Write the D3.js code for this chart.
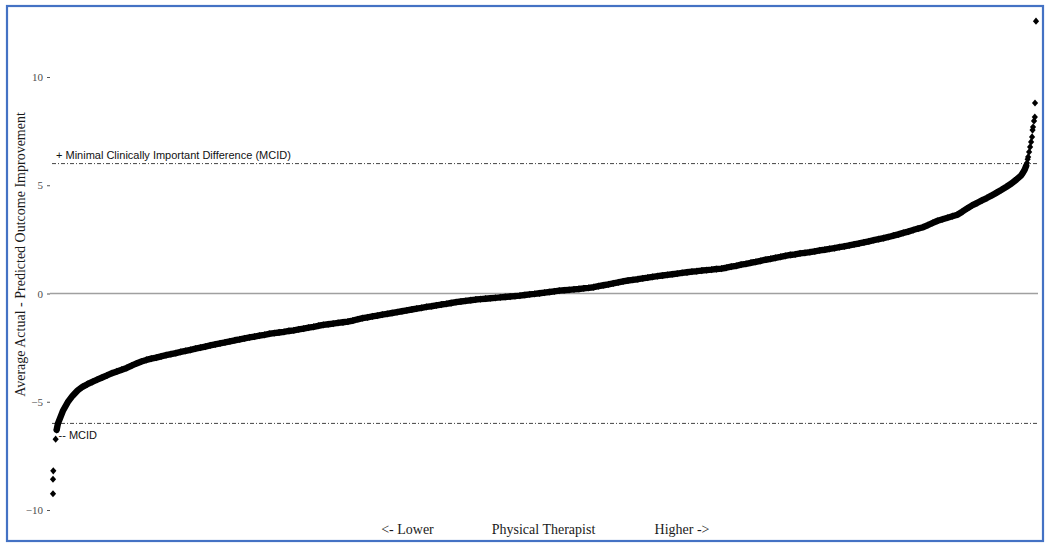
<!DOCTYPE html>
<html>
<head>
<meta charset="utf-8">
<script src="https://cdn.jsdelivr.net/npm/d3@7"></script>
<style>
  html, body { margin: 0; padding: 0; background: #fff; }
  svg { display: block; }
</style>
</head>
<body>
<svg id="chart" width="1046" height="544"></svg>
<script>
// ---- data ----
// y-axis tick values
const yTicks = [-10, -5, 0, 5, 10];
// MCID reference levels
const mcidLevels = [6, -6];
// x-axis texts
const xAxisTexts = ["<- Lower", "Physical Therapist", "Higher ->"];
const yAxisTitle = "Average Actual - Predicted Outcome Improvement";
const mcidUpperText = "+ Minimal Clinically Important Difference (MCID)";
const mcidLowerText = "-- MCID";

// continuous body of the sorted therapist curve: percentile rank and value
const corePct = [0.37,
  0.5, 1, 1.5, 2, 2.5, 3, 3.5, 4, 4.5, 5, 5.5, 6, 6.5, 7, 7.5, 8, 8.5, 9, 9.5, 10,
  10.5, 11, 11.5, 12, 12.5, 13, 13.5, 14, 14.5, 15, 15.5, 16, 16.5, 17, 17.5, 18, 18.5, 19, 19.5, 20,
  20.5, 21, 21.5, 22, 22.5, 23, 23.5, 24, 24.5, 25, 25.5, 26, 26.5, 27, 27.5, 28, 28.5, 29, 29.5, 30,
  30.5, 31, 31.5, 32, 32.5, 33, 33.5, 34, 34.5, 35, 35.5, 36, 36.5, 37, 37.5, 38, 38.5, 39, 39.5, 40,
  40.5, 41, 41.5, 42, 42.5, 43, 43.5, 44, 44.5, 45, 45.5, 46, 46.5, 47, 47.5, 48, 48.5, 49, 49.5, 50,
  50.5, 51, 51.5, 52, 52.5, 53, 53.5, 54, 54.5, 55, 55.5, 56, 56.5, 57, 57.5, 58, 58.5, 59, 59.5, 60,
  60.5, 61, 61.5, 62, 62.5, 63, 63.5, 64, 64.5, 65, 65.5, 66, 66.5, 67, 67.5, 68, 68.5, 69, 69.5, 70,
  70.5, 71, 71.5, 72, 72.5, 73, 73.5, 74, 74.5, 75, 75.5, 76, 76.5, 77, 77.5, 78, 78.5, 79, 79.5, 80,
  80.5, 81, 81.5, 82, 82.5, 83, 83.5, 84, 84.5, 85, 85.5, 86, 86.5, 87, 87.5, 88, 88.5, 89, 89.5, 90,
  90.5, 91, 91.5, 92, 92.5, 93, 93.5, 94, 94.5, 95, 95.5, 96, 96.5, 97, 97.5, 98, 98.5,
  98.7, 98.85, 99.0];
const coreVal = [-6.30,
  -6.01, -5.43, -5.02, -4.72, -4.48, -4.31, -4.19, -4.08, -3.98, -3.88,
  -3.78, -3.68, -3.60, -3.52, -3.44, -3.33, -3.23, -3.14, -3.07, -3.01,
  -2.96, -2.90, -2.85, -2.80, -2.75, -2.70, -2.65, -2.60, -2.55, -2.50,
  -2.45, -2.40, -2.35, -2.30, -2.26, -2.21, -2.16, -2.12, -2.07, -2.03,
  -1.99, -1.95, -1.91, -1.86, -1.83, -1.80, -1.77, -1.73, -1.70, -1.66,
  -1.62, -1.58, -1.54, -1.49, -1.45, -1.42, -1.39, -1.36, -1.33, -1.30,
  -1.25, -1.19, -1.14, -1.10, -1.06, -1.02, -0.98, -0.94, -0.90, -0.86,
  -0.82, -0.78, -0.74, -0.70, -0.66, -0.62, -0.59, -0.55, -0.51, -0.48,
  -0.44, -0.40, -0.37, -0.34, -0.31, -0.28, -0.26, -0.24, -0.22, -0.20,
  -0.18, -0.16, -0.14, -0.12, -0.10, -0.07, -0.04, -0.02, 0.01, 0.04,
  0.07, 0.10, 0.13, 0.15, 0.17, 0.19, 0.21, 0.24, 0.26, 0.29,
  0.34, 0.38, 0.42, 0.47, 0.51, 0.56, 0.60, 0.63, 0.66, 0.70,
  0.73, 0.77, 0.80, 0.83, 0.86, 0.89, 0.92, 0.95, 0.98, 1.01,
  1.03, 1.06, 1.08, 1.10, 1.13, 1.15, 1.19, 1.24, 1.28, 1.33,
  1.37, 1.42, 1.46, 1.51, 1.56, 1.60, 1.65, 1.69, 1.74, 1.78,
  1.81, 1.85, 1.88, 1.91, 1.95, 1.99, 2.02, 2.06, 2.10, 2.14,
  2.18, 2.22, 2.27, 2.31, 2.36, 2.41, 2.46, 2.51, 2.56, 2.61,
  2.67, 2.73, 2.80, 2.86, 2.93, 3.00, 3.06, 3.16, 3.26, 3.36,
  3.43, 3.50, 3.57, 3.64, 3.78, 3.93, 4.07, 4.18, 4.30, 4.41,
  4.53, 4.66, 4.79, 4.93, 5.08, 5.26, 5.46,
  5.60, 5.72, 5.90];

// separated extreme therapists at both ends
const tailPct = [0, 0, 0.03, 0.27,
  99.08, 99.15, 99.2, 99.3, 99.4, 99.5, 99.6, 99.65, 99.7, 99.8, 99.88, 99.9, 100];
const tailVal = [-9.25, -8.58, -8.19, -6.73,
  6.03, 6.20, 6.31, 6.54, 6.77, 7.00, 7.23, 7.55, 7.69, 7.97, 8.15, 8.80, 12.58];

// ---- drawing ----
const svg = d3.select("#chart");
const W = 1046, H = 544;

svg.append("rect").attr("x", 0).attr("y", 0).attr("width", W).attr("height", H).attr("fill", "#fff");

const x = d3.scaleLinear().domain([0, 100]).range([53, 1036]);
const y = d3.scaleLinear().domain([-10, 10]).range([510, 77]);

// y axis
const yAxis = d3.axisLeft(y).tickValues(yTicks).tickSize(3).tickPadding(4).tickFormat(d3.format("d"));
const gy = svg.append("g").attr("transform", "translate(50,0)").call(yAxis);
gy.select(".domain").remove();
gy.selectAll(".tick line").attr("stroke", "#555").attr("stroke-width", 1);
gy.selectAll(".tick text")
  .attr("fill", "#4d4d4d")
  .style("font-family", "'Liberation Serif', 'Times New Roman', serif")
  .style("font-size", "11px");

// zero line
svg.append("line")
  .attr("x1", 50).attr("x2", 1038)
  .attr("y1", y(0)).attr("y2", y(0))
  .attr("stroke", "#a0a0a0").attr("stroke-width", 1.5);

// MCID lines
svg.selectAll(".mcid").data(mcidLevels).enter().append("line")
  .attr("class", "mcid")
  .attr("x1", 52).attr("x2", 1038)
  .attr("y1", d => y(d)).attr("y2", d => y(d))
  .attr("stroke", "#444").attr("stroke-width", 1)
  .attr("stroke-dasharray", "4,2,1,2");

// MCID texts
const sans = "'Liberation Sans', Arial, sans-serif";
svg.append("text").text(mcidUpperText)
  .attr("x", 56).attr("y", y(mcidLevels[0]) - 4.6)
  .style("font-family", sans).style("font-size", "11px").attr("fill", "#111");
svg.append("text").text(mcidLowerText)
  .attr("x", 58.5).attr("y", y(mcidLevels[1]) + 15.5)
  .style("font-family", sans).style("font-size", "11px").attr("fill", "#111");

// curve body
const core = corePct.map((p, i) => ({ p, v: coreVal[i] }));
const tails = tailPct.map((p, i) => ({ p, v: tailVal[i] }));

svg.append("path")
  .datum(core)
  .attr("d", d3.line().x(d => x(d.p)).y(d => y(d.v)))
  .attr("fill", "none").attr("stroke", "#000").attr("stroke-width", 6.4)
  .attr("stroke-linejoin", "round").attr("stroke-linecap", "round");

const diamond = "M0,-3.6L3.1,0L0,3.6L-3.1,0Z";
svg.selectAll(".pt").data(core.concat(tails)).enter().append("path")
  .attr("class", "pt")
  .attr("d", diamond)
  .attr("transform", d => `translate(${x(d.p)},${y(d.v)})`)
  .attr("fill", "#000");

// axis texts
const serif = "'Liberation Serif', 'Times New Roman', serif";
svg.append("text").text(yAxisTitle)
  .attr("transform", `translate(25,254.5) rotate(-90)`)
  .attr("text-anchor", "middle")
  .style("font-family", serif).style("font-size", "14px").attr("fill", "#1a1a1a");

const xTextCenters = [407.5, 543.5, 682];
svg.selectAll(".xt").data(xAxisTexts).enter().append("text")
  .attr("class", "xt")
  .text(d => d)
  .attr("x", (d, i) => xTextCenters[i]).attr("y", 534)
  .attr("text-anchor", "middle")
  .style("font-family", serif).style("font-size", "14px").attr("fill", "#1a1a1a");

// frame
svg.append("rect")
  .attr("x", 7).attr("y", 6).attr("width", 1036).attr("height", 535)
  .attr("fill", "none").attr("stroke", "#4472c4").attr("stroke-width", 2.2);
</script>
</body>
</html>
